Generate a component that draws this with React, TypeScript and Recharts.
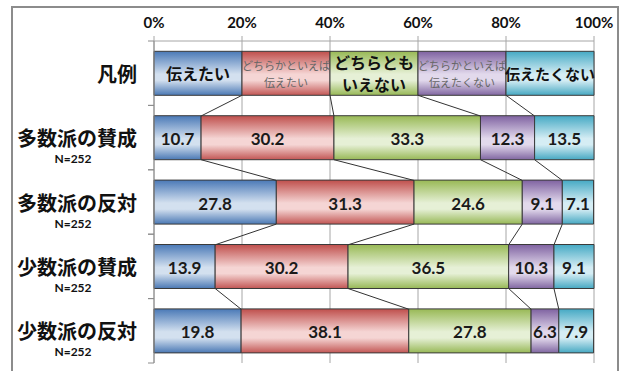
import { BarChart, Bar, XAxis, YAxis, CartesianGrid, LabelList } from "recharts";

// rows (top to bottom); the first row is the in-chart legend
const categories = ["凡例", "多数派の賛成", "多数派の反対", "少数派の賛成", "少数派の反対"];
const sampleSizes = ["", "N=252", "N=252", "N=252", "N=252"];

const seriesNames = ["伝えたい", "どちらかといえば伝えたい", "どちらともいえない", "どちらかといえば伝えたくない", "伝えたくない"];
const wantTell = [20, 10.7, 27.8, 13.9, 19.8];
const ratherTell = [20, 30.2, 31.3, 30.2, 38.1];
const neither = [20, 33.3, 24.6, 36.5, 27.8];
const ratherNot = [20, 12.3, 9.1, 10.3, 6.3];
const notTell = [20, 13.5, 7.1, 9.1, 7.9];

const xTicks = [0, 20, 40, 60, 80, 100];

const legendLines = [["伝えたい"], ["どちらかといえば", "伝えたい"], ["どちらとも", "いえない"], ["どちらかといえば", "伝えたくない"], ["伝えたくない"]];
const legendBold = [true, false, true, false, true];

const colors = [
  { top: "#4a79b7", mid: "#d3e0ef", bot: "#4a78b4" },
  { top: "#bf4f4c", mid: "#f5d5d4", bot: "#c25654" },
  { top: "#98b955", mid: "#e6f0d6", bot: "#97b856" },
  { top: "#7f62a1", mid: "#e2d9ec", bot: "#8066a1" },
  { top: "#45a9c4", mid: "#d5edf4", bot: "#46a8c2" },
];

const seriesValues = [wantTell, ratherTell, neither, ratherNot, notTell];
const keys = ["s0", "s1", "s2", "s3", "s4"];

const data = categories.map((c, i) => {
  const row: Record<string, string | number> = { name: c, n: sampleSizes[i] };
  seriesValues.forEach((vals, j) => (row[keys[j]] = vals[i]));
  return row;
});

// cumulative right edges, for the connector lines between rows
const cum = categories.map((_, i) => {
  let acc = 0;
  return seriesValues.map((vals) => (acc += vals[i]));
});

const GAP = 0.16;
const CJK = "'Noto Sans CJK JP', 'Noto Sans', sans-serif";
const NUM = "Lato, 'Open Sans', sans-serif";
const AXIS = "#8c8c8c";

const CategoryTick = (props: any) => {
  const { x, y, payload, index } = props;
  const n = sampleSizes[index];
  const ax = x + 17;
  const off = payload.offset || 0;
  return (
    <g>
      <line x1={ax - 6} x2={ax} y1={y - off} y2={y - off} stroke={AXIS} />
      <line x1={ax - 6} x2={ax} y1={y + off} y2={y + off} stroke={AXIS} />
      <text x={x} y={y} textAnchor="end" dominantBaseline="central" fontFamily={CJK} fontWeight={700} fontSize={20} fill="#111">
        {payload.value}
      </text>
      {n && (
        <text x={x - 64} y={y + 21} textAnchor="middle" dominantBaseline="central" fontFamily={NUM} fontWeight={700} fontSize={12} fill="#111">
          {n}
        </text>
      )}
    </g>
  );
};

const makeLabel = (j: number) => (props: any) => {
  const { x, y, width, height, value, index } = props;
  const cx = x + width / 2;
  const cy = y + height / 2;

  // connector from this segment's right edge to the same edge on the next row
  let connector = null;
  if (j < 4 && index < categories.length - 1 && value > 0) {
    const k = width / value;
    const x0 = x - (cum[index][j] - value) * k;
    const band = height / (1 - 2 * GAP);
    connector = (
      <line
        x1={x + width}
        y1={y + height}
        x2={x0 + cum[index + 1][j] * k}
        y2={y + band}
        stroke="#333"
        strokeWidth={1}
      />
    );
  }

  if (index === 0) {
    const lines = legendLines[j];
    const bold = legendBold[j];
    const lh = bold ? 22 : 17;
    const fs = bold ? (lines[0].length > 5 ? 15 : 16) : 11;
    return (
      <g>
        {connector}
        <text textAnchor="middle" fontFamily={CJK} fontWeight={bold ? 700 : 400} fontSize={fs} fill={bold ? "#111" : "#666"}>
          {lines.map((t, kk) => (
            <tspan key={kk} x={cx} y={cy + (kk - (lines.length - 1) / 2) * lh} dominantBaseline="central">
              {t}
            </tspan>
          ))}
        </text>
      </g>
    );
  }
  return (
    <g>
      {connector}
      <text x={cx} y={cy + 1} textAnchor="middle" dominantBaseline="central" fontFamily={NUM} fontWeight={700} fontSize={17} fill="#1a1a1a">
        {value}
      </text>
    </g>
  );
};

export default function App() {
  return (
    <div style={{ position: "absolute", left: 0, top: 0, width: 622, height: 371, background: "#fff", overflow: "hidden" }}>
      <div style={{ position: "absolute", left: 11, top: 6, width: 608, height: 400, border: "2px solid #8c8c8c", boxSizing: "border-box" }} />
      <div style={{ position: "absolute", left: 0, top: 0 }}>
        <BarChart
          width={622}
          height={371}
          data={data}
          layout="vertical"
          barCategoryGap={`${GAP * 100}%`}
          margin={{ top: 11, right: 28, bottom: 8, left: 0 }}
        >
          <defs>
            {colors.map((c, j) => (
              <linearGradient key={j} id={`g${j}`} x1="0" y1="0" x2="0" y2="1">
                <stop offset="0%" stopColor={c.top} />
                <stop offset="52%" stopColor={c.mid} />
                <stop offset="66%" stopColor={c.mid} />
                <stop offset="100%" stopColor={c.bot} />
              </linearGradient>
            ))}
          </defs>
          <CartesianGrid horizontal={false} stroke="#a6a6a6" />
          <XAxis
            type="number"
            orientation="top"
            domain={[0, 100]}
            ticks={xTicks}
            height={30}
            tickSize={5}
            tickMargin={8}
            axisLine={{ stroke: "#a6a6a6" }}
            tickLine={{ stroke: "#a6a6a6" }}
            tickFormatter={(v: number) => `${v}%`}
            tick={{ fontFamily: NUM, fontWeight: 700, fontSize: 15, fill: "#111" }}
          />
          <YAxis
            type="category"
            dataKey="name"
            width={154}
            axisLine={{ stroke: AXIS }}
            tickLine={false}
            tickSize={6}
            tickMargin={11}
            tick={<CategoryTick />}
          />
          {keys.map((k, j) => (
            <Bar key={k} dataKey={k} name={seriesNames[j]} stackId="a" fill={`url(#g${j})`} stroke="#3a3a3a" strokeWidth={1} isAnimationActive={false}>
              <LabelList dataKey={k} content={makeLabel(j)} />
            </Bar>
          ))}
        </BarChart>
      </div>
    </div>
  );
}
